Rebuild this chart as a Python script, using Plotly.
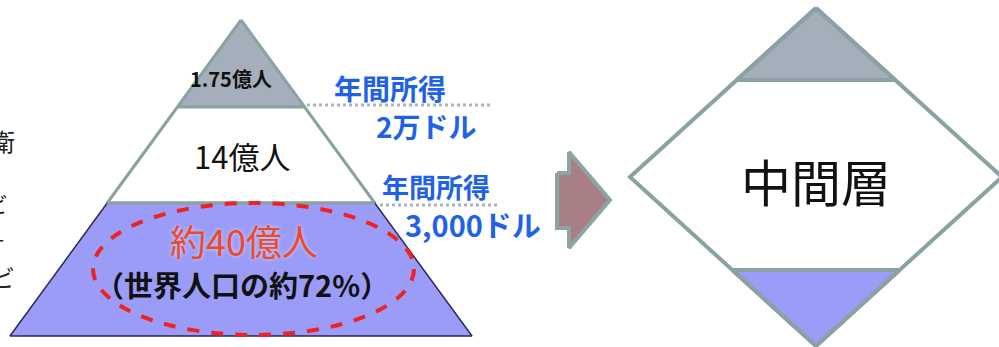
import plotly.graph_objects as go

# ---- data (text content of the diagram) ----
tier_labels = ["1.75億人", "14億人", "約40億人"]
share_label = "（世界人口の約72%）"
income_titles = ["年間所得", "年間所得"]
income_values = ["2万ドル", "3,000ドル"]
right_label = "中間層"
left_fragments = ["衛", "ビ", "ー", "ビ"]

# ---- geometry (pixel-like coordinate system) ----
W, H = 999, 347
APEX = (241, 20)
BASE_Y = 336
BASE_HALF = 231
tier_bounds = [20, 107, 203, 336]
tier_fills = ["#a4afbb", "#ffffff", "#9b9bf8"]
TEAL = "#8aa2a2"

def half_w(y):
    return BASE_HALF * (y - APEX[1]) / (BASE_Y - APEX[1])

fig = go.Figure()

# pyramid tiers
for i in range(3):
    y0, y1 = tier_bounds[i], tier_bounds[i + 1]
    cx = APEX[0]
    xs = [cx - half_w(y0), cx + half_w(y0), cx + half_w(y1), cx - half_w(y1), cx - half_w(y0)]
    ys = [y0, y0, y1, y1, y0]
    if i < 2:
        line = dict(color=TEAL, width=3)
    else:
        line = dict(color="#2a2a55", width=1.5)
    fig.add_trace(go.Scatter(x=xs, y=ys, mode="lines", fill="toself", fillcolor=tier_fills[i],
                             line=line, hoverinfo="skip", showlegend=False))
yb = tier_bounds[2]
fig.add_trace(go.Scatter(x=[APEX[0] - half_w(yb), APEX[0] + half_w(yb)], y=[yb, yb], mode="lines",
                         line=dict(color=TEAL, width=3), hoverinfo="skip", showlegend=False))

# dotted income lines
dot_lines = [(307, 493, 105), (380, 500, 205)]
for x0, x1, y in dot_lines:
    fig.add_trace(go.Scatter(x=[x0, x1], y=[y, y], mode="lines",
                             line=dict(color="#aab4be", width=3, dash="dot"),
                             hoverinfo="skip", showlegend=False))

# arrow
ax = [557, 569, 569, 610, 569, 569, 557, 557]
ay = [173, 173, 152, 200, 248, 228, 228, 173]
fig.add_trace(go.Scatter(x=ax, y=ay, mode="lines", fill="toself", fillcolor="#a97f86",
                         line=dict(color="#8ea4a4", width=4), hoverinfo="skip", showlegend=False))

# diamond
DCX, DCY, DHW, DHH = 816, 177, 186, 169
def d_half(y):
    return DHW * (1 - abs(y - DCY) / DHH)
band_top, band_bot = 80, 270
fig.add_trace(go.Scatter(x=[DCX, DCX + d_half(band_top), DCX - d_half(band_top), DCX],
                         y=[DCY - DHH, band_top, band_top, DCY - DHH], mode="lines", fill="toself",
                         fillcolor="#a4afbb", line=dict(color=TEAL, width=4),
                         hoverinfo="skip", showlegend=False))
fig.add_trace(go.Scatter(x=[DCX - d_half(band_bot), DCX + d_half(band_bot), DCX, DCX - d_half(band_bot)],
                         y=[band_bot, band_bot, DCY + DHH, band_bot], mode="lines", fill="toself",
                         fillcolor="#9b9bf8", line=dict(color=TEAL, width=4),
                         hoverinfo="skip", showlegend=False))
fig.add_trace(go.Scatter(x=[DCX, DCX + DHW, DCX, DCX - DHW, DCX],
                         y=[DCY - DHH, DCY, DCY + DHH, DCY, DCY - DHH], mode="lines",
                         line=dict(color=TEAL, width=4), hoverinfo="skip", showlegend=False))

# red dashed ellipse
fig.add_shape(type="circle", xref="x", yref="y", x0=93, x1=414, y0=203, y1=335,
              line=dict(color="#ee2222", width=4, dash="dash"))

JP = "Noto Sans CJK JP"
def ann(text, x, y, size, color="#111111", weight="normal", xanchor="center", shadow=None):
    f = dict(family=JP, size=size, color=color, weight=weight)
    if shadow:
        f["shadow"] = shadow
    fig.add_annotation(x=x, y=y, xref="x", yref="y", text=text, showarrow=False,
                       font=f, xanchor=xanchor, yanchor="middle")

ann(tier_labels[0], 231, 78, 20, weight="bold")
ann(tier_labels[1], 242, 155, 31)
ann(tier_labels[2], 244, 240, 36, color="#ee4a2a", shadow="0 0 4px #c8d8ff")
ann(share_label, 242, 284, 29, weight="bold")

ann(income_titles[0], 390, 88, 28, color="#1f62e6", weight="bold")
ann(income_values[0], 426, 126, 28, color="#1f62e6", weight="bold")
ann(income_titles[1], 436, 186, 27, color="#1f62e6", weight="bold")
ann(income_values[1], 473, 224, 29, color="#1f62e6", weight="bold")

ann(right_label, 816, 180, 50)

# left cut-off text fragments
frag_pos = [(17, 140), (10, 203), (7, 240), (17, 276)]
frag_size = [24, 22, 18, 24]
for t, (x, y), s in zip(left_fragments, frag_pos, frag_size):
    ann(t, x, y, s, color="#222222", xanchor="right")

fig.update_layout(
    width=W, height=H, margin=dict(l=0, r=0, t=0, b=0),
    paper_bgcolor="white", plot_bgcolor="white",
    xaxis=dict(range=[0, W], visible=False, fixedrange=True),
    yaxis=dict(range=[H, 0], visible=False, fixedrange=True),
    showlegend=False,
)
fig.write_html("out.html", config={"displayModeBar": False},
               post_script="document.body.style.margin='0px';")
